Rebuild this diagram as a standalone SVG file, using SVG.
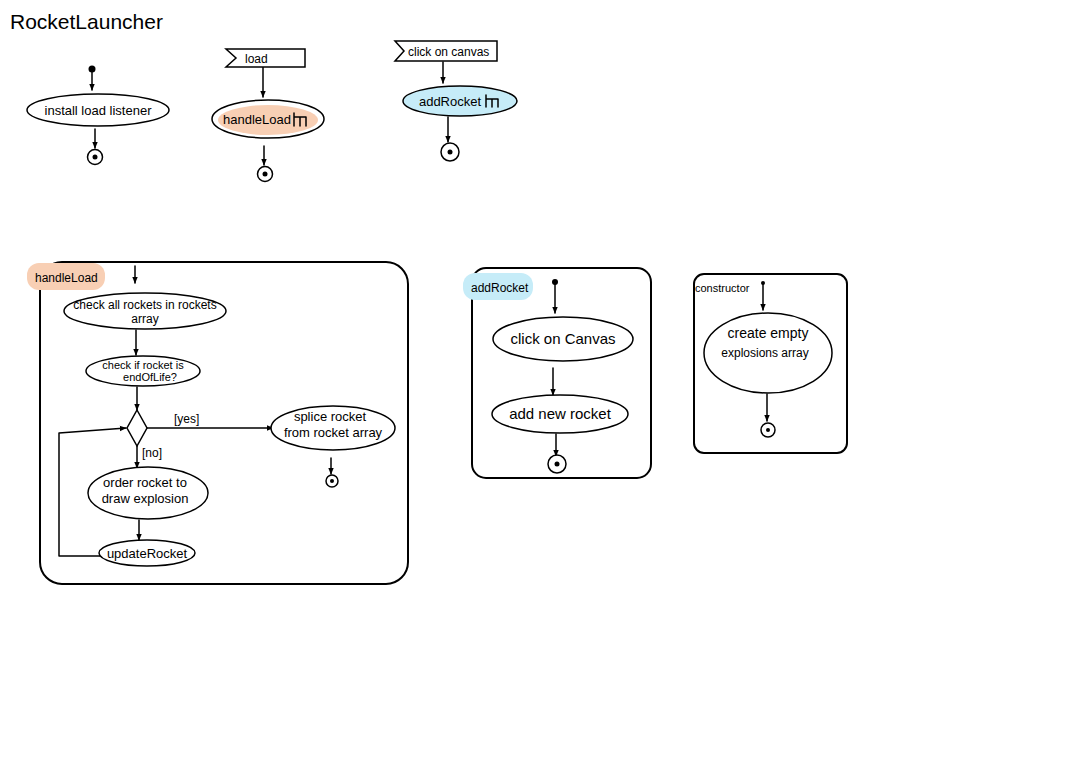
<svg xmlns="http://www.w3.org/2000/svg" width="1091" height="769" viewBox="0 0 1091 769">
<defs>
<marker id="ah" viewBox="0 0 10 10" refX="9" refY="5" markerWidth="7" markerHeight="7" orient="auto" markerUnits="userSpaceOnUse">
<path d="M0,1 L10,5 L0,9 z" fill="#000"/>
</marker>
<style>
.ln{fill:none;stroke:#000;stroke-width:1.5;stroke-linecap:round;stroke-linejoin:round}
.nd{fill:#fff;stroke:#000;stroke-width:1.5}
.t{font-family:"Liberation Sans",Arial,sans-serif;font-size:13px;fill:#000;text-anchor:middle}
.tl{font-family:"Liberation Sans",Arial,sans-serif;font-size:12px;fill:#000}
.fr{fill:none;stroke:#000;stroke-width:2}
.dot{fill:#000}
</style>
</defs>
<rect width="1091" height="769" fill="#fff"/>
<text x="10" y="29" style="font-family:'Liberation Sans',Arial,sans-serif;font-size:21px;fill:#000">RocketLauncher</text>

<g id="frames">
<rect class="fr" x="40" y="262" width="368" height="322" rx="22"/>
<rect class="fr" x="472" y="268" width="179" height="210" rx="14"/>
<rect class="fr" x="694" y="274" width="153" height="179" rx="10"/>
</g>

<g id="connectors">
<path class="ln" d="M92,70 V90" marker-end="url(#ah)"/>
<path class="ln" d="M95,129 V148" marker-end="url(#ah)"/>
<path class="ln" d="M263,67 V97" marker-end="url(#ah)"/>
<path class="ln" d="M264,146 V165" marker-end="url(#ah)"/>
<path class="ln" d="M443,62 V83" marker-end="url(#ah)"/>
<path class="ln" d="M448,117 V142" marker-end="url(#ah)"/>
<path class="ln" d="M135,266 V283" marker-end="url(#ah)"/>
<path class="ln" d="M136,330 V355" marker-end="url(#ah)"/>
<path class="ln" d="M137,387 V410" marker-end="url(#ah)"/>
<path class="ln" d="M147,428 H273" marker-end="url(#ah)"/>
<path class="ln" d="M137,446 V468" marker-end="url(#ah)"/>
<path class="ln" d="M331,458 V474" marker-end="url(#ah)"/>
<path class="ln" d="M139,520 V540" marker-end="url(#ah)"/>
<path class="ln" d="M100,556 H59 V433 L126,428" marker-end="url(#ah)"/>
<path class="ln" d="M555,283 V313" marker-end="url(#ah)"/>
<path class="ln" d="M553,368 V395" marker-end="url(#ah)"/>
<path class="ln" d="M556,434 V456" marker-end="url(#ah)"/>
<path class="ln" d="M763,284 V310" marker-end="url(#ah)"/>
<path class="ln" d="M767,394 V421" marker-end="url(#ah)"/>
<text class="tl" x="174" y="423">[yes]</text>
<text class="tl" x="142" y="457">[no]</text>
</g>

<g id="start1"><circle class="dot" cx="92" cy="69" r="3.5"/></g>
<g id="install"><ellipse class="nd" cx="98" cy="110" rx="71" ry="16"/><text class="t" x="98" y="115">install load listener</text></g>
<g id="end1"><circle class="nd" cx="95" cy="157" r="7.5"/><circle class="dot" cx="95" cy="157" r="2.5"/></g>

<g id="sigLoad"><path class="nd" d="M226,49 H305 V67 H226 L236,58 Z"/><text class="tl" x="245" y="63">load</text></g>
<g id="handleLoadCall"><ellipse class="nd" cx="268" cy="119" rx="56" ry="19"/><ellipse cx="268" cy="120" rx="50" ry="15" fill="#f8cfb4"/><text class="t" x="257" y="124">handleLoad</text><path class="ln" d="M294,113 V126 M294,117 H306 M300,117 V126 M306,117 V126"/></g>
<g id="end2"><circle class="nd" cx="265" cy="174" r="7.5"/><circle class="dot" cx="265" cy="174" r="2.5"/></g>

<g id="sigClick"><path class="nd" d="M395,41 H497 V61 H395 L404,51 Z"/><text class="tl" x="408" y="56">click on canvas</text></g>
<g id="addRocketCall"><ellipse cx="460" cy="101" rx="57" ry="15" fill="#c6ecf8" stroke="none"/><ellipse class="ln" cx="460" cy="101" rx="57" ry="15"/><text class="t" x="450" y="106">addRocket</text><path class="ln" d="M486,95 V107 M486,99 H498 M492,99 V107 M498,99 V107"/></g>
<g id="end3"><circle class="nd" cx="450" cy="152" r="9"/><circle class="dot" cx="450" cy="152" r="2.5"/></g>

<g id="lblHandleLoad"><rect x="27" y="263" width="78" height="27" rx="12" fill="#f8cfb4"/><text class="tl" x="35" y="282">handleLoad</text></g>
<g id="checkAll"><ellipse class="nd" cx="145" cy="311" rx="81" ry="18"/><text class="t" x="145" y="309" style="font-size:12px">check all rockets in rockets</text><text class="t" x="145" y="323" style="font-size:12px">array</text></g>
<g id="checkIf"><ellipse class="nd" cx="143" cy="371" rx="57" ry="15"/><text class="t" x="143" y="369" style="font-size:11px">check if rocket is</text><text class="t" x="150" y="381" style="font-size:11px">endOfLife?</text></g>
<g id="decision"><path class="nd" d="M137,410 L147,428 L137,446 L127,428 Z"/></g>
<g id="splice"><ellipse class="nd" cx="333" cy="428" rx="62" ry="22"/><text class="t" x="330" y="421">splice rocket</text><text class="t" x="333" y="437">from rocket array</text></g>
<g id="end4"><circle class="nd" cx="332" cy="481" r="6"/><circle class="dot" cx="332" cy="481" r="2"/></g>
<g id="order"><ellipse class="nd" cx="148" cy="493" rx="60" ry="26"/><text class="t" x="145" y="487">order rocket to</text><text class="t" x="145" y="503">draw explosion</text></g>
<g id="updateRocket"><ellipse class="nd" cx="147" cy="553" rx="48" ry="13"/><text class="t" x="147" y="558">updateRocket</text></g>

<g id="lblAddRocket"><rect x="463" y="273" width="70" height="27" rx="12" fill="#c6ecf8"/><text class="tl" x="471" y="292">addRocket</text></g>
<g id="start2"><circle class="dot" cx="555" cy="282" r="3"/></g>
<g id="clickCanvas"><ellipse class="nd" cx="563" cy="339" rx="70" ry="22"/><text class="t" x="563" y="344" style="font-size:15px">click on Canvas</text></g>
<g id="addNew"><ellipse class="nd" cx="560" cy="414" rx="68" ry="19"/><text class="t" x="560" y="419" style="font-size:15px">add new rocket</text></g>
<g id="end5"><circle class="nd" cx="557" cy="464" r="9"/><circle class="dot" cx="557" cy="464" r="2.5"/></g>

<g id="lblConstructor"><text class="tl" x="695" y="292" style="font-size:11px">constructor</text></g>
<g id="start3"><circle class="dot" cx="763" cy="283" r="2"/></g>
<g id="createEmpty"><ellipse class="nd" cx="768" cy="353" rx="64" ry="40"/><text class="t" x="768" y="338" style="font-size:14px">create empty</text><text class="t" x="765" y="357" style="font-size:12px">explosions array</text></g>
<g id="end6"><circle class="nd" cx="768" cy="430" r="7"/><circle class="dot" cx="768" cy="430" r="2"/></g>
</svg>
